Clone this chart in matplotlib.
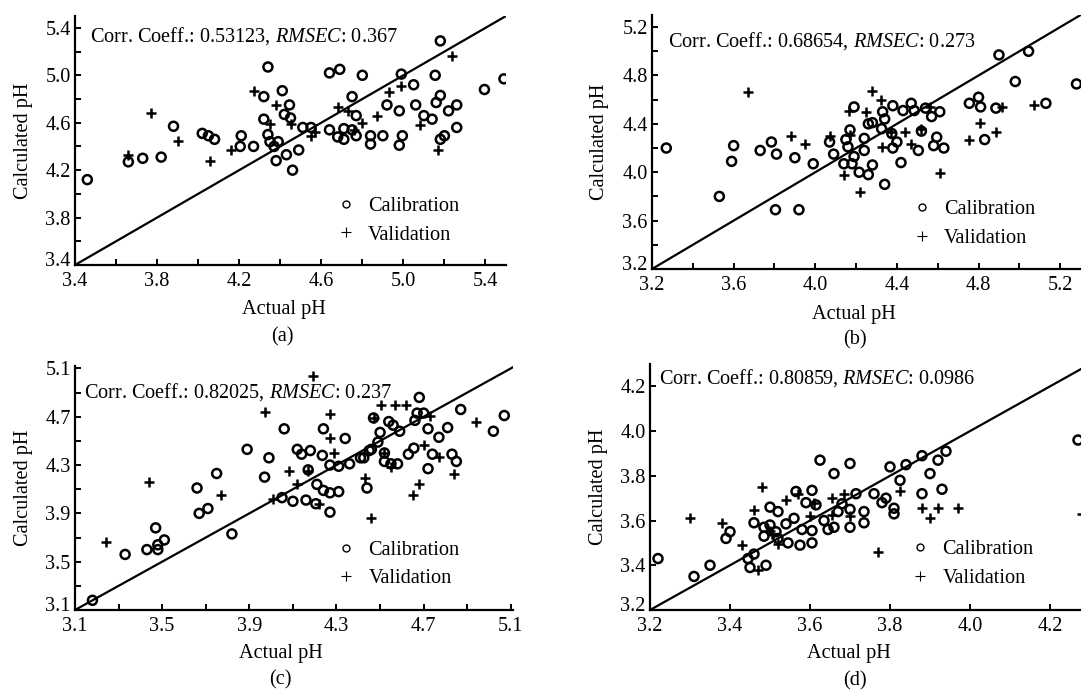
import matplotlib.pyplot as plt
from matplotlib.lines import Line2D
from matplotlib.transforms import ScaledTranslation
import numpy as np

plt.rcParams['font.family'] = 'Liberation Serif'
plt.rcParams['mathtext.fontset'] = 'custom'
plt.rcParams['mathtext.rm'] = 'Liberation Serif'
plt.rcParams['mathtext.it'] = 'Liberation Serif:italic'

# ---- data ----
a_cal_x = [3.46, 3.66, 3.73, 3.82, 3.88, 4.02, 4.05, 4.08, 4.21, 4.205, 4.27, 4.32, 4.32, 4.34, 4.34,
           4.35, 4.37, 4.38, 4.39, 4.41, 4.42, 4.43, 4.445, 4.45, 4.46, 4.49, 4.51, 4.55, 4.64, 4.64,
           4.69, 4.68, 4.71, 4.71, 4.75, 4.75, 4.77, 4.77, 4.80, 4.84, 4.84, 4.90, 4.92, 4.98, 4.98,
           4.99, 4.995, 5.05, 5.06, 5.10, 5.14, 5.155, 5.16, 5.18, 5.18, 5.18, 5.20, 5.22, 5.26, 5.26,
           5.395, 5.49]
a_cal_y = [4.12, 4.27, 4.30, 4.31, 4.57, 4.51, 4.49, 4.46, 4.49, 4.40, 4.40, 4.82, 4.63, 5.07, 4.50,
           4.44, 4.40, 4.28, 4.44, 4.87, 4.67, 4.33, 4.75, 4.64, 4.20, 4.37, 4.56, 4.56, 4.54, 5.02,
           5.05, 4.48, 4.55, 4.46, 4.82, 4.54, 4.66, 4.49, 5.00, 4.49, 4.42, 4.49, 4.75, 4.70, 4.41,
           5.01, 4.49, 4.92, 4.75, 4.66, 4.63, 5.00, 4.77, 5.29, 4.83, 4.46, 4.49, 4.70, 4.75, 4.56,
           4.88, 4.97]
a_val_x = [3.66, 3.77, 3.90, 4.06, 4.16, 4.27, 4.35, 4.38, 4.45, 4.55, 4.57, 4.68, 4.73, 4.76, 4.80,
           4.87, 4.93, 4.99, 5.08, 5.17, 5.235]
a_val_y = [4.33, 4.68, 4.45, 4.28, 4.37, 4.87, 4.59, 4.75, 4.59, 4.49, 4.52, 4.73, 4.70, 4.54, 4.60,
           4.66, 4.86, 4.91, 4.58, 4.37, 5.16]

b_cal_x = [3.27, 3.53, 3.59, 3.60, 3.73, 3.785, 3.81, 3.805, 3.90, 3.92, 3.99, 4.07, 4.09, 4.14, 4.15,
           4.17, 4.18, 4.16, 4.19, 4.19, 4.215, 4.24, 4.24, 4.26, 4.26, 4.28, 4.28, 4.33, 4.34, 4.34,
           4.38, 4.38, 4.40, 4.42, 4.43, 4.47, 4.485, 4.505, 4.52, 4.54, 4.57, 4.58, 4.595, 4.61, 4.63,
           4.755, 4.80, 4.81, 4.83, 4.885, 4.90, 4.98, 5.045, 5.13, 5.28, 4.325, 4.375]
b_cal_y = [4.20, 3.80, 4.09, 4.22, 4.18, 4.25, 4.15, 3.69, 4.12, 3.69, 4.07, 4.25, 4.15, 4.07, 4.27,
           4.35, 4.07, 4.21, 4.54, 4.13, 4.00, 4.18, 4.28, 3.98, 4.40, 4.06, 4.41, 4.50, 4.44, 3.90,
           4.20, 4.55, 4.25, 4.08, 4.51, 4.57, 4.51, 4.18, 4.34, 4.53, 4.46, 4.22, 4.29, 4.50, 4.20,
           4.57, 4.62, 4.54, 4.27, 4.53, 4.97, 4.75, 5.00, 4.57, 4.73, 4.36, 4.32]
b_val_x = [3.67, 3.88, 3.95, 4.07, 4.14, 4.165, 4.17, 4.22, 4.25, 4.28, 4.32, 4.325, 4.37, 4.44, 4.47,
           4.52, 4.56, 4.61, 4.755, 4.805, 4.885, 4.915, 5.07]
b_val_y = [4.66, 4.30, 4.23, 4.30, 3.98, 4.51, 4.31, 3.84, 4.50, 4.67, 4.60, 4.21, 4.33, 4.33, 4.23,
           4.36, 4.54, 3.99, 4.27, 4.41, 4.33, 4.54, 4.56]

c_cal_x = [3.18, 3.33, 3.43, 3.47, 3.48, 3.48, 3.51, 3.66, 3.67, 3.71, 3.75, 3.82, 3.89, 3.97, 3.99,
           4.05, 4.06, 4.10, 4.12, 4.14, 4.16, 4.17, 4.18, 4.205, 4.21, 4.235, 4.24, 4.24, 4.27, 4.27,
           4.27, 4.31, 4.31, 4.34, 4.36, 4.41, 4.425, 4.44, 4.45, 4.47, 4.50, 4.52, 4.52, 4.54, 4.55,
           4.56, 4.58, 4.59, 4.63, 4.655, 4.66, 4.68, 4.67, 4.70, 4.72, 4.72, 4.74, 4.77, 4.81, 4.83,
           4.85, 4.87, 5.02, 5.07, 4.46, 4.49]
c_cal_y = [3.18, 3.56, 3.60, 3.78, 3.64, 3.60, 3.68, 4.11, 3.90, 3.94, 4.23, 3.73, 4.43, 4.20, 4.36,
           4.03, 4.60, 4.00, 4.43, 4.39, 4.01, 4.26, 4.42, 3.98, 4.14, 4.38, 4.60, 4.09, 3.91, 4.07,
           4.30, 4.08, 4.29, 4.52, 4.31, 4.36, 4.36, 4.11, 4.42, 4.69, 4.57, 4.40, 4.33, 4.66, 4.31,
           4.63, 4.31, 4.58, 4.39, 4.44, 4.67, 4.86, 4.73, 4.73, 4.60, 4.27, 4.39, 4.53, 4.61, 4.39,
           4.33, 4.76, 4.58, 4.71, 4.43, 4.49]
c_val_x = [3.24, 3.44, 3.77, 3.97, 4.01, 4.08, 4.12, 4.17, 4.19, 4.22, 4.27, 4.27, 4.29, 4.43, 4.46,
           4.47, 4.505, 4.52, 4.55, 4.57, 4.62, 4.65, 4.68, 4.70, 4.73, 4.77, 4.84, 4.94]
c_val_y = [3.66, 4.16, 4.05, 4.74, 4.02, 4.25, 4.14, 4.25, 5.04, 3.98, 4.52, 4.72, 4.40, 4.19, 3.86,
           4.69, 4.80, 4.40, 4.28, 4.80, 4.80, 4.05, 4.14, 4.47, 4.71, 4.37, 4.23, 4.66]

d_cal_x = [3.22, 3.31, 3.35, 3.39, 3.40, 3.445, 3.45, 3.46, 3.46, 3.485, 3.49, 3.485, 3.50, 3.50, 3.515,
           3.52, 3.52, 3.54, 3.545, 3.56, 3.565, 3.575, 3.58, 3.59, 3.605, 3.605, 3.605, 3.615, 3.625, 3.635,
           3.645, 3.66, 3.66, 3.67, 3.68, 3.70, 3.70, 3.70, 3.715, 3.735, 3.735, 3.76, 3.78, 3.79, 3.80,
           3.81, 3.81, 3.825, 3.84, 3.88, 3.88, 3.90, 3.92, 3.93, 3.94, 4.27]
d_cal_y = [3.43, 3.35, 3.40, 3.52, 3.55, 3.43, 3.39, 3.45, 3.59, 3.57, 3.40, 3.53, 3.66, 3.58, 3.55,
           3.64, 3.52, 3.585, 3.50, 3.61, 3.73, 3.49, 3.56, 3.68, 3.735, 3.555, 3.50, 3.67, 3.87, 3.60,
           3.56, 3.81, 3.57, 3.64, 3.675, 3.855, 3.65, 3.57, 3.72, 3.64, 3.59, 3.72, 3.68, 3.70, 3.84,
           3.655, 3.63, 3.78, 3.85, 3.89, 3.72, 3.81, 3.87, 3.74, 3.91, 3.96]
d_val_x = [3.30, 3.38, 3.43, 3.46, 3.48, 3.47, 3.50, 3.505, 3.52, 3.54, 3.57, 3.60, 3.61, 3.655, 3.655,
           3.685, 3.70, 3.77, 3.825, 3.88, 3.90, 3.92, 3.97, 4.28]
d_val_y = [3.61, 3.59, 3.49, 3.645, 3.75, 3.38, 3.555, 3.54, 3.495, 3.69, 3.72, 3.62, 3.68, 3.70, 3.625,
           3.72, 3.62, 3.46, 3.73, 3.655, 3.61, 3.655, 3.655, 3.63]

stats = [('0.53123', '0.367'), ('0.68654', '0.273'), ('0.82025', '0.237'), ('0.80859', '0.0986')]
captions = ['(a)', '(b)', '(c)', '(d)']

W, H = 1081, 691
fig = plt.figure(figsize=(W / 100, H / 100), dpi=100)
FS = 14.6


def px_box(left, bottom, w, h):
    return [left / W, 1 - bottom / H, w / W, h / H]


def draw_panel(box, cal_x, cal_y, val_x, val_y, xlim, ylim, xt, xt_minor, yt, yt_minor,
               stat, text_pos, leg_pos, xlab_x, ylab_x):
    ax = fig.add_axes(box)
    ax.scatter(cal_x, cal_y, s=42, marker='o', facecolors='none', edgecolors='black', linewidths=1.8, zorder=3)
    ax.scatter(val_x, val_y, s=44, marker='+', color='black', linewidths=1.8, zorder=3)
    ax.plot(xlim, xlim, color='black', lw=1.6, zorder=2)
    ax.set_xlim(xlim)
    ax.set_ylim(ylim)
    ax.set_xticks(xt)
    ax.set_xticks(xt_minor, minor=True)
    ax.set_yticks(yt)
    ax.set_yticks(yt_minor, minor=True)
    ax.set_xticklabels(['%.1f' % v for v in xt])
    ax.set_yticklabels(['%.1f' % v for v in yt])
    ax.tick_params(which='both', direction='in', length=4, width=1.4, labelsize=FS, colors='black')
    ax.tick_params(axis='x', pad=5)
    ax.tick_params(axis='y', pad=3)
    # lowest y label sits a little higher so it clears the corner x label
    lab0 = ax.get_yticklabels()[0]
    lab0.set_transform(lab0.get_transform() + ScaledTranslation(0, 4 / 72, fig.dpi_scale_trans))
    for s in ['top', 'right']:
        ax.spines[s].set_visible(False)
    for s in ['left', 'bottom']:
        ax.spines[s].set_linewidth(1.6)
    ax.set_xlabel('Actual pH', fontsize=FS)
    ax.set_ylabel('Calculated pH', fontsize=FS)
    ax.xaxis.set_label_coords(xlab_x, -0.14)
    ax.yaxis.set_label_coords(ylab_x, 0.5)
    ax.text(text_pos[0], text_pos[1], 'Corr. Coeff.: %s, $\\mathit{RMSEC}$: %s' % stat,
            transform=ax.transAxes, ha='left', va='center', fontsize=FS)
    handles = [Line2D([], [], marker='o', ls='', mfc='none', mec='black', ms=5, mew=1.0),
               Line2D([], [], marker='+', ls='', color='black', ms=7, mew=0.8)]
    ax.legend(handles, ['Calibration', 'Validation'], loc='upper left', bbox_to_anchor=leg_pos,
              frameon=False, fontsize=FS, handlelength=1.0, handletextpad=0.6,
              borderpad=0, borderaxespad=0, labelspacing=0.45)
    return ax


draw_panel(px_box(75, 265, 431, 249), a_cal_x, a_cal_y, a_val_x, a_val_y,
           [3.4, 5.5], [3.4, 5.5], np.arange(3.4, 5.45, 0.4), np.arange(3.6, 5.45, 0.4),
           np.arange(3.4, 5.45, 0.4), np.arange(3.6, 5.45, 0.4),
           stats[0], (0.035, 0.921), (0.605, 0.273), 0.485, -0.097)
draw_panel(px_box(652, 269, 449, 254), b_cal_x, b_cal_y, b_val_x, b_val_y,
           [3.2, 5.4], [3.2, 5.3], np.arange(3.2, 5.25, 0.4), np.arange(3.4, 5.45, 0.4),
           np.arange(3.2, 5.25, 0.4), np.arange(3.4, 5.25, 0.4),
           stats[1], (0.035, 0.898), (0.578, 0.271), 0.449, -0.096)
draw_panel(px_box(75, 610, 438, 244), c_cal_x, c_cal_y, c_val_x, c_val_y,
           [3.1, 5.11], [3.1, 5.12], np.arange(3.1, 5.15, 0.4), np.arange(3.3, 5.05, 0.4),
           np.arange(3.1, 5.15, 0.4), np.arange(3.3, 5.05, 0.4),
           stats[2], (0.021, 0.895), (0.596, 0.283), 0.469, -0.097)
draw_panel(px_box(650, 610, 440, 246), d_cal_x, d_cal_y, d_val_x, d_val_y,
           [3.2, 4.3], [3.2, 4.3], np.arange(3.2, 4.25, 0.2), [],
           np.arange(3.2, 4.25, 0.2), [],
           stats[3], (0.021, 0.943), (0.591, 0.284), 0.453, -0.096)

cap_pos = [(282, 337), (855, 340), (280, 680), (855, 681)]
for cap, (cx, cy) in zip(captions, cap_pos):
    fig.text(cx / W, 1 - cy / H, cap, ha='center', va='center', fontsize=FS)

fig.savefig('out.png', dpi=100)
